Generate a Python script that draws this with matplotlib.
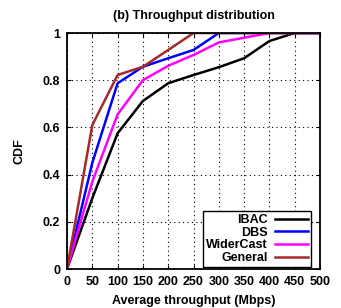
import matplotlib
matplotlib.use("Agg")
import matplotlib.pyplot as plt

plt.rcParams['font.family'] = ['Liberation Sans', 'DejaVu Sans']
plt.rcParams['font.weight'] = 'bold'
plt.rcParams['font.size'] = 9

# throughput (Mbps) and CDF values
x = [0, 50, 100, 150, 200, 250, 300, 350, 400, 450, 500]
ibac = [0, 0.30, 0.575, 0.712, 0.787, 0.822, 0.855, 0.893, 0.966, 1.0, 1.0]
dbs = [0, 0.45, 0.787, 0.857, 0.893, 0.928, 1.0, 1.0, 1.0, 1.0, 1.0]
widercast = [0, 0.37, 0.655, 0.80, 0.861, 0.907, 0.96, 0.98, 1.0, 1.0, 1.0]
general = [0, 0.61, 0.822, 0.857, 0.928, 1.0, 1.0, 1.0, 1.0, 1.0, 1.0]

series = [("IBAC", ibac, "black"),
          ("DBS", dbs, "blue"),
          ("WiderCast", widercast, "magenta"),
          ("General", general, "#a52a2a")]

fig = plt.figure(figsize=(3.41, 3.08), dpi=100)
ax = fig.add_axes([67/341, 1 - 269/308, 253/341, 236/308])

for name, vals, col in series:
    ax.plot(x, vals, color=col, lw=1.8, label=name)

ax.set_xlim(0, 500)
ax.set_ylim(0, 1)
ax.set_xticks(range(0, 501, 50))
ax.set_yticks([0, 0.2, 0.4, 0.6, 0.8, 1])
ax.set_yticklabels(["0", "0.2", "0.4", "0.6", "0.8", "1"])
ax.grid(True, color="black", linestyle=(0, (1, 3)), lw=0.8)
ax.tick_params(direction="in", length=3, top=True, right=True, pad=5)
for s in ax.spines.values():
    s.set_linewidth(1.3)

ax.set_title("(b) Throughput distribution", fontsize=9, fontweight="bold", pad=10)
ax.set_xlabel("Average throughput (Mbps)", fontweight="bold", labelpad=5)
ax.set_ylabel("CDF", fontweight="bold", labelpad=12)

leg = ax.legend(loc="lower right", bbox_to_anchor=(244/253, 2/236),
                markerfirst=False, fancybox=False,
                edgecolor="black", framealpha=1, handlelength=2.6,
                labelspacing=0.05, borderpad=0.25, borderaxespad=0,
                handletextpad=0.6)
leg.get_frame().set_linewidth(1.0)

fig.savefig("out.png", dpi=100)
